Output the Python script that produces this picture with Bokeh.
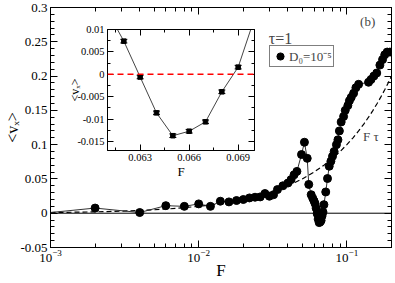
import math
from bokeh.plotting import figure
from bokeh.models import (Range1d, LinearAxis, LogAxis, Span, Label, Legend, LegendItem,
                          ColumnDataSource, Whisker, TeeHead, FixedTicker)
from bokeh.layouts import column
from bokeh.embed import file_html
from bokeh.resources import INLINE

SERIF = "Liberation Serif"

# ---------------- main panel data ----------------
F_main = [0.0009, 0.002, 0.004, 0.006, 0.008, 0.010, 0.012, 0.014, 0.016, 0.018,
          0.020, 0.022, 0.024, 0.026, 0.028, 0.030, 0.032, 0.034, 0.037, 0.040,
          0.042, 0.044, 0.046, 0.0494, 0.0517, 0.054, 0.0553, 0.0574, 0.0588, 0.060,
          0.061, 0.062, 0.063, 0.064, 0.065, 0.066, 0.067, 0.068, 0.069, 0.070,
          0.072, 0.074, 0.076, 0.078, 0.080, 0.082, 0.085, 0.087, 0.089, 0.0915,
          0.095, 0.0975, 0.1015, 0.104, 0.107, 0.111, 0.115, 0.120, 0.140, 0.1455,
          0.152, 0.159, 0.167, 0.174, 0.180, 0.187, 0.195]
v_main = [0.0, 0.0075, 0.001, 0.011, 0.010, 0.0136, 0.010, 0.0175, 0.0165, 0.0185,
          0.020, 0.0223, 0.0233, 0.0238, 0.0287, 0.0248, 0.027, 0.0345, 0.040, 0.044,
          0.049, 0.056, 0.061, 0.0856, 0.1035, 0.080, 0.042, 0.027, 0.022, 0.018,
          0.014, 0.0074, -0.0006, -0.0086, -0.0137, -0.0127, -0.0106, -0.0039, 0.0016, 0.0125,
          0.031, 0.0506, 0.0685, 0.0758, 0.083, 0.090, 0.100, 0.107, 0.120, 0.133,
          0.141, 0.150, 0.157, 0.164, 0.169, 0.175, 0.183, 0.188, 0.191, 0.195,
          0.200, 0.2045, 0.216, 0.224, 0.231, 0.235, 0.235]

TAU = 1.0
F_theory = [0.001, 0.0015, 0.002, 0.003, 0.004, 0.005, 0.007, 0.01, 0.013, 0.016, 0.02,
            0.025, 0.03, 0.035, 0.04, 0.05, 0.06, 0.07, 0.08, 0.09, 0.1, 0.11, 0.12,
            0.13, 0.14, 0.15, 0.16, 0.17, 0.18, 0.19, 0.2]
v_theory = [TAU * f for f in F_theory]

x_ticks = [0.001, 0.01, 0.1]
x_minor = [m * d for d in (0.001, 0.01, 0.1) for m in range(2, 10)]
y_ticks = [-0.05, 0.0, 0.05, 0.1, 0.15, 0.2, 0.25, 0.3]
y_tick_labels = ["-0.05", "0", "0.05", "0.1", "0.15", "0.2", "0.25", "0.3"]
y_minor = [round(-0.05 + 0.01 * i, 2) for i in range(36)]

# ---------------- inset data ----------------
F_in = [0.061, 0.062, 0.063, 0.064, 0.065, 0.066, 0.067, 0.068, 0.069, 0.070]
v_in = [0.014, 0.0074, -0.0006, -0.0086, -0.0137, -0.0127, -0.0106, -0.0039, 0.0016, 0.0125]
F_in_pts = [0.062, 0.063, 0.064, 0.065, 0.066, 0.067, 0.068, 0.069]
v_in_pts = [0.0074, -0.0006, -0.0086, -0.0137, -0.0127, -0.0106, -0.0039, 0.0016]
err_in = [0.0004, 0.0004, 0.0004, 0.0004, 0.0004, 0.0004, 0.0004, 0.0004]

ix_ticks = [0.063, 0.066, 0.069]
ix_tick_labels = ["0.063", "0.066", "0.069"]
ix_minor = [0.0615, 0.0645, 0.0675, 0.0705]
iy_ticks = [-0.015, -0.01, -0.005, 0.0, 0.005, 0.01]
iy_tick_labels = ["-0.015", "-0.01", "-0.005", "0", "0.005", "0.01"]
iy_minor = [-0.0175, -0.0125, -0.0075, -0.0025, 0.0025, 0.0075]


def style_axis(ax, size, tick_in, minor_in, labels=True):
    ax.axis_line_color = "black"
    ax.axis_line_width = 1
    ax.major_tick_line_color = "black"
    ax.minor_tick_line_color = "black"
    ax.major_tick_in = tick_in
    ax.major_tick_out = 0
    ax.minor_tick_in = minor_in
    ax.minor_tick_out = 0
    ax.major_label_text_font = SERIF
    ax.major_label_text_font_size = size
    ax.major_label_text_color = "black"
    ax.major_label_standoff = 3
    ax.axis_label_text_font = SERIF
    ax.axis_label_text_font_style = "normal"
    ax.axis_label_text_color = "black"
    if not labels:
        ax.major_label_text_font_size = "1px"
        ax.major_label_text_alpha = 0
        ax.major_label_standoff = 0


# ---------------- main figure ----------------
p = figure(width=395, height=283, x_axis_type="log",
           x_range=Range1d(0.001, 0.2), y_range=Range1d(-0.05, 0.3),
           output_backend="svg", toolbar_location=None,
           min_border_left=48, min_border_right=3, min_border_top=7, min_border_bottom=36)
p.xgrid.visible = False
p.ygrid.visible = False
p.outline_line_color = "black"
p.background_fill_color = "white"

xa = p.xaxis[0]
xa.ticker = FixedTicker(ticks=x_ticks, minor_ticks=x_minor)
style_axis(xa, "13px", 7, 4)
xa.major_label_standoff = 2
xa.axis_label = "F"
xa.axis_label_text_font_size = "17px"
xa.axis_label_standoff = -4
ya = p.yaxis[0]
ya.ticker = FixedTicker(ticks=y_ticks, minor_ticks=y_minor)
ya.major_label_overrides = {t: s for t, s in zip(y_ticks, y_tick_labels)}
style_axis(ya, "13px", 7, 4)
ya.axis_label = "<v\u2093>"
ya.axis_label_text_font_size = "16px"
ya.axis_label_standoff = -4

top = LogAxis(ticker=FixedTicker(ticks=x_ticks, minor_ticks=x_minor))
style_axis(top, "13px", 7, 4, labels=False)
p.add_layout(top, "above")
right = LinearAxis(ticker=FixedTicker(ticks=y_ticks, minor_ticks=y_minor))
style_axis(right, "13px", 7, 4, labels=False)
p.add_layout(right, "right")

p.add_layout(Span(location=0, dimension="width", line_color="black", line_width=1))

p.line(F_theory, v_theory, line_color="black", line_width=1.2, line_dash="5 3")
p.line(F_main, v_main, line_color="#333333", line_width=1)
dots = p.scatter(F_main, v_main, size=8, marker="circle", fill_color="black", line_color="black")

legend = Legend(items=[LegendItem(label="D\u2080=10\u207b\u2075", renderers=[dots])],
                location=(219, 180))
legend.border_line_color = "black"
legend.border_line_width = 1
legend.background_fill_color = "white"
legend.padding = 1
legend.margin = 0
legend.spacing = 0
legend.glyph_width = 18
legend.glyph_height = 18
legend.label_height = 18
legend.label_standoff = -2
legend.label_text_font = SERIF
legend.label_text_font_size = "13px"
p.add_layout(legend)

p.add_layout(Label(x=0.0297, y=0.2555, text="\u03c4=1", text_font=SERIF, text_font_size="16px",
                   text_baseline="middle", text_align="left"))
p.add_layout(Label(x=0.1228, y=0.279, text="(b)", text_font=SERIF, text_font_size="13px",
                   text_baseline="middle", text_align="left"))
p.add_layout(Label(x=0.1286, y=0.112, text="F \u03c4", text_font=SERIF, text_font_size="13px",
                   text_baseline="middle", text_align="left"))

# ---------------- inset figure ----------------
ins = figure(frame_width=147, frame_height=121,
             x_range=Range1d(0.061, 0.070), y_range=Range1d(-0.017, 0.01),
             output_backend="svg", toolbar_location=None,
             min_border_left=50, min_border_right=4, min_border_top=4, min_border_bottom=34)
ins.styles = {"position": "absolute", "left": "57px", "top": "25px"}
ins.xgrid.visible = False
ins.ygrid.visible = False
ins.outline_line_color = "black"
ins.background_fill_color = "white"
ins.border_fill_alpha = 0

ixa = ins.xaxis[0]
ixa.ticker = FixedTicker(ticks=ix_ticks, minor_ticks=ix_minor)
ixa.major_label_overrides = {t: s for t, s in zip(ix_ticks, ix_tick_labels)}
style_axis(ixa, "10.5px", 6, 3)
ixa.axis_label = "F"
ixa.axis_label_text_font_size = "13px"
ixa.axis_label_standoff = 0
iya = ins.yaxis[0]
iya.ticker = FixedTicker(ticks=iy_ticks, minor_ticks=iy_minor)
iya.major_label_overrides = {t: s for t, s in zip(iy_ticks, iy_tick_labels)}
style_axis(iya, "10.5px", 6, 3)
iya.axis_label = "<v\u2093>"
iya.axis_label_text_font_size = "12px"
iya.axis_label_standoff = -8
itop = LinearAxis(ticker=FixedTicker(ticks=ix_ticks, minor_ticks=ix_minor))
style_axis(itop, "10px", 6, 3, labels=False)
ins.add_layout(itop, "above")
iright = LinearAxis(ticker=FixedTicker(ticks=iy_ticks, minor_ticks=iy_minor))
style_axis(iright, "10px", 6, 3, labels=False)
ins.add_layout(iright, "right")

ins.add_layout(Span(location=0, dimension="width", line_color="red", line_width=1.5,
                    line_dash="6 4"))
ins.line(F_in, v_in, line_color="#444444", line_width=1)
esrc = ColumnDataSource(dict(x=F_in_pts, lo=[v - e for v, e in zip(v_in_pts, err_in)],
                             hi=[v + e for v, e in zip(v_in_pts, err_in)]))
ins.add_layout(Whisker(source=esrc, base="x", lower="lo", upper="hi", dimension="height",
                       line_color="black", line_width=1,
                       upper_head=TeeHead(size=7, line_color="black", line_width=1),
                       lower_head=TeeHead(size=7, line_color="black", line_width=1)))
ins.scatter(F_in_pts, v_in_pts, size=4.5, marker="square", fill_color="black", line_color="black")

layout = column(p, ins)
open("out.html", "w").write(file_html(layout, INLINE))
